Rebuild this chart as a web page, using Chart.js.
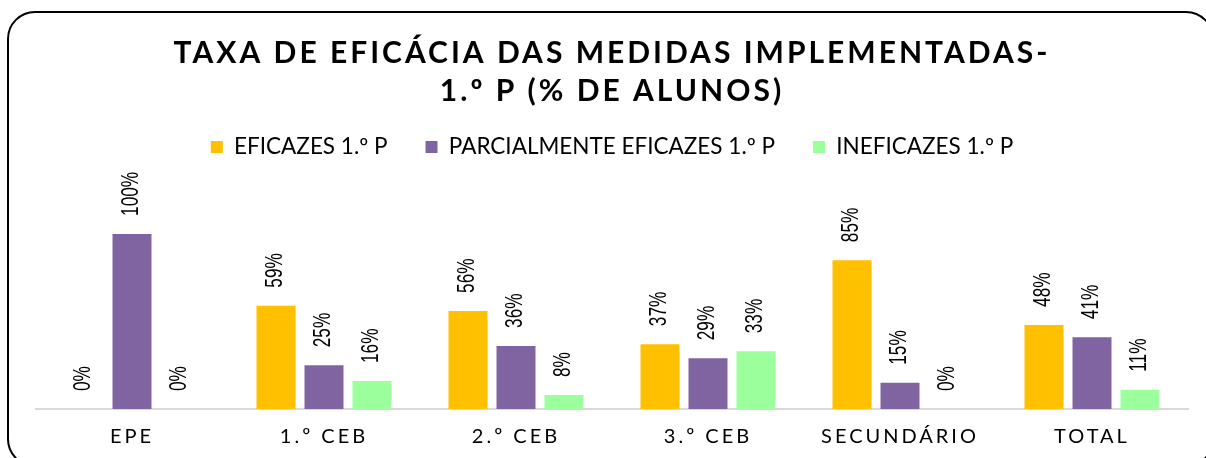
<!DOCTYPE html>
<html lang="pt">
<head>
<meta charset="utf-8">
<title>Taxa de eficácia das medidas implementadas</title>
<script src="https://cdn.jsdelivr.net/npm/chart.js@4.4.0/dist/chart.umd.min.js"></script>
<style>
  html, body { margin: 0; padding: 0; background: #fff; overflow: hidden; }
  #wrap { position: relative; width: 1206px; height: 458px; }
  #frame {
    position: absolute; left: 7px; top: 11px;
    width: 1207px; height: 456px;
    border: 2px solid #000; border-radius: 28px;
    box-sizing: border-box;
  }
  canvas#chart { position: absolute; left: 0; top: 0; }
</style>
</head>
<body>
<div id="wrap">
  <div id="frame"></div>
  <canvas id="chart" width="1206" height="458"></canvas>
</div>
<script>
// Data (% of pupils, 1st period)
const categories = ['EPE', '1.º CEB', '2.º CEB', '3.º CEB', 'SECUNDÁRIO', 'TOTAL'];
const seriesNames = ['EFICAZES 1.º P', 'PARCIALMENTE EFICAZES 1.º P', 'INEFICAZES 1.º P'];
const eficazes = [0, 59, 56, 37, 85, 48];
const parcialmenteEficazes = [100, 25, 36, 29, 15, 41];
const ineficazes = [0, 16, 8, 33, 0, 11];
const titleLines = ['TAXA DE EFICÁCIA DAS MEDIDAS IMPLEMENTADAS-', '1.º P (% DE ALUNOS)'];

const colors = {
  eficazes: '#FFC000',
  parcial: '#8064A2',
  ineficazes: '#9BFF9B',
  axis: '#d9d9d9',
  text: '#000'
};

/*
 * Canvas letterSpacing isn't an option in Chart.js, so wrap the
 * draw calls of the title and x tick labels to set it.
**/
function withSpacing(obj, fnName, spacing) {
  const orig = obj[fnName].bind(obj);
  obj[fnName] = (...args) => {
    const ctx = obj.ctx;
    const prev = ctx.letterSpacing;
    ctx.letterSpacing = spacing;
    orig(...args);
    ctx.letterSpacing = prev;
  };
}

const spacedText = {
  id: 'spacedText',
  beforeDraw(chart) {
    if (chart.$spaced) return;
    chart.$spaced = true;
    withSpacing(chart.titleBlock, 'draw', '3px');
    withSpacing(chart.scales.x, 'drawLabels', '3px');
  }
};

// Vertical (condensed) value labels above every bar
const barValueLabels = {
  id: 'barValueLabels',
  afterDatasetsDraw(chart) {
    const ctx = chart.ctx;
    ctx.save();
    ctx.font = '23px "Liberation Sans", Arial, sans-serif';
    ctx.fillStyle = colors.text;
    ctx.textAlign = 'left';
    ctx.textBaseline = 'middle';
    chart.data.datasets.forEach((ds, i) => {
      chart.getDatasetMeta(i).data.forEach((bar, j) => {
        ctx.save();
        ctx.translate(bar.x, bar.y - 18);
        ctx.rotate(-Math.PI / 2);
        ctx.scale(0.75, 1);
        ctx.fillText(ds.data[j] + '%', 0, 0);
        ctx.restore();
      });
    });
    ctx.restore();
  }
};

function dataset(label, data, color) {
  return {
    label: label,
    data: data,
    backgroundColor: color,
    borderWidth: 0,
    categoryPercentage: 0.75,
    barPercentage: 0.8125
  };
}

function drawChart() {
  new Chart(document.getElementById('chart'), {
    type: 'bar',
    data: {
      labels: categories,
      datasets: [
        dataset(seriesNames[0], eficazes, colors.eficazes),
        dataset(seriesNames[1], parcialmenteEficazes, colors.parcial),
        dataset(seriesNames[2], ineficazes, colors.ineficazes)
      ]
    },
    options: {
      responsive: false,
      animation: false,
      layout: { padding: { left: 36, right: 18, top: 0, bottom: -7 } },
      scales: {
        x: {
          grid: { display: false, drawTicks: false },
          border: { color: colors.axis, width: 2 },
          ticks: {
            color: colors.text,
            font: { family: 'Lato', size: 20 },
            padding: 16
          }
        },
        // hidden value axis; max keeps 1.75 px per percentage point
        y: { display: false, min: 0, max: 137.5 }
      },
      plugins: {
        title: {
          display: true,
          text: titleLines,
          color: colors.text,
          font: { family: 'Lato', size: 30, weight: 'bold', lineHeight: '38px' },
          padding: { top: 34, bottom: -12.25 }
        },
        legend: {
          labels: {
            color: colors.text,
            font: { family: 'Lato', size: 22.5 },
            boxWidth: 12,
            boxHeight: 12,
            padding: 38
          }
        },
        tooltip: { enabled: false }
      }
    },
    plugins: [spacedText, barValueLabels]
  });
}

Promise.all([
  document.fonts.load('bold 30px Lato'),
  document.fonts.load('22px Lato'),
  document.fonts.load('23px "Liberation Sans"')
]).then(drawChart, drawChart);
</script>
</body>
</html>
